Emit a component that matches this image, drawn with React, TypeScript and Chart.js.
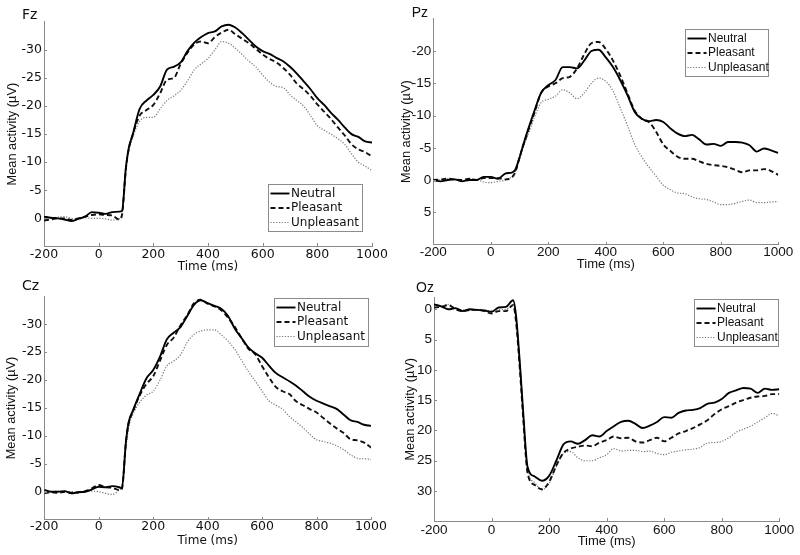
import React, { useEffect, useRef } from 'react';
import { Chart, registerables } from 'chart.js';

Chart.register(...registerables);

// ---------- data ----------
const TIME = [-200, -175, -150, -125, -100, -75, -50, -25, 0, 25, 50, 75, 85, 100, 110, 125,
  150, 175, 200, 225, 250, 275, 300, 325, 350, 375, 400, 425, 450, 475, 500, 525, 550, 575,
  600, 625, 650, 675, 700, 725, 750, 775, 800, 825, 850, 875, 900, 925, 950, 975, 1000];

const SERIES_NAMES = ['Neutral', 'Pleasant', 'Unpleasant'];

const FZ_NEUTRAL = [-0.3, -0.1, 0, 0.2, 0.5, 0.1, -0.3, -1.1, -1.0, -0.8, -1.1, -1.2, -1.3, -9.2, -12.5, -15,
  -19.5, -21, -22, -23.5, -26.5, -27, -27.8, -29.8, -31.3, -32.3, -33, -33.3, -34.2, -34.5, -34, -33, -31.8, -30.6,
  -29.8, -29.3, -28.6, -28, -27, -25.8, -24.4, -23, -21.4, -20.2, -18.8, -17.6, -16.2, -15, -14.5, -13.7, -13.5];
const FZ_PLEASANT = [0.4, 0.2, 0, 0, 0.3, 0, -0.3, -0.6, -0.7, -0.6, -0.5, 0.2, -0.5, -9, -12.3, -15,
  -18.3, -19.3, -20.2, -22.3, -24.7, -25, -27.5, -29.5, -31, -31.5, -31.2, -32.3, -33.1, -33.6, -32.8, -32, -31.2, -30.2,
  -29.2, -28.4, -27.8, -26.8, -25.6, -24, -23, -21.8, -20.3, -19, -17.7, -16.2, -14.8, -13.2, -12.3, -11.8, -11];
const FZ_UNPLEASANT = [-0.2, 0, -0.2, -0.3, 0, 0.1, -0.1, 0, 0, 0.1, 0.3, 0.1, -0.8, -9, -12, -14.5,
  -17.3, -18, -18, -19.5, -21, -21.8, -22.8, -24.5, -26.5, -27.5, -28.5, -30, -31.5, -31.2, -30.3, -29.2, -28, -27,
  -25.5, -24.3, -23.5, -23.3, -22, -21, -20, -18.3, -16.5, -15.7, -15, -14.2, -13.2, -11.5, -10, -9.3, -8.5];

const PZ_NEUTRAL = [0, 0.2, 0, -0.1, 0.2, 0, 0, -0.5, -0.5, -0.2, -1, -1.2, -1.6, -3.5, -5, -7.2,
  -10.5, -13.5, -14.7, -15.5, -17.5, -17.5, -17.3, -18.5, -20, -20.2, -19, -17.5, -15.5, -13.2, -10.6, -9.5, -9.1, -9.3,
  -9, -8, -7.2, -6.8, -7, -6.3, -5.5, -5.6, -5.3, -5.9, -5.9, -5.8, -5.4, -4.4, -4.9, -4.6, -4.2];
const PZ_PLEASANT = [0, -0.1, -0.2, -0.1, 0, -0.2, 0, -0.3, -0.3, -0.3, -0.1, -0.5, -1.2, -3.5, -5, -7,
  -10.2, -13.5, -14.5, -15, -15.8, -16, -17.3, -19.5, -21.2, -21.4, -20.3, -18.5, -16.2, -13.5, -10.8, -9.5, -9, -7.5,
  -5.5, -4.5, -3.6, -3.3, -3.3, -2.9, -2.5, -2.3, -2.2, -2, -1.6, -1.2, -1.5, -1.5, -1.7, -1.4, -0.8];
const PZ_UNPLEASANT = [0, 0, -0.2, 0, 0.1, -0.2, -0.1, 0.3, 0.4, 0.2, 0, -0.6, -1.2, -3.3, -4.8, -6.5,
  -9.5, -12, -12.5, -13, -14, -13.5, -12.6, -13.5, -15, -15.8, -15.3, -13.8, -11.2, -8.5, -5.6, -3.6, -2, -0.6,
  0.8, 1.5, 2, 2.1, 2.6, 2.9, 3, 3.4, 3.8, 3.8, 3.6, 3.3, 3.1, 3.5, 3.5, 3.4, 3.3];

const CZ_NEUTRAL = [-0.3, 0, 0, -0.1, 0.3, 0.1, 0, -0.4, -0.9, -0.8, -1, -0.8, -0.6, -9, -12.5, -14.5,
  -17.5, -20.3, -21.8, -24.2, -27.3, -28.5, -29.5, -31.5, -33.5, -34.3, -33.8, -33.3, -32.8, -31.5, -29.2, -27.5, -25.8, -24.8,
  -24, -22.6, -21.3, -20.5, -19.8, -19, -18, -17, -16.3, -15.8, -15.3, -14.8, -13.8, -12.8, -12.5, -12, -11.8];
const CZ_PLEASANT = [0.3, 0.1, 0.2, 0, 0.2, 0.1, -0.1, -0.6, -1.2, -0.8, -0.7, -0.3, -0.5, -9, -12.3, -14.3,
  -17.2, -19.3, -20.7, -23.5, -26.3, -27.6, -29.8, -31.6, -33.8, -34.4, -33.7, -33.2, -32.5, -31.2, -29.5, -27.5, -25.6, -24.6,
  -22.5, -20.5, -18.8, -18, -17.5, -16.2, -15.5, -14.8, -14.2, -13.2, -12.2, -11.3, -10.5, -9.4, -9.2, -8.8, -7.9];
const CZ_UNPLEASANT = [-0.4, 0, -0.1, 0.1, 0, 0.2, 0, -0.1, 0, 0.3, 0.5, -0.3, -1, -8, -11.5, -13.8,
  -16, -17.3, -18, -20, -22.5, -23.4, -24.5, -26.8, -28.2, -28.8, -29, -29, -28.1, -27, -25.5, -23.5, -21.5, -19.8,
  -18, -16.3, -15.5, -14.8, -13.5, -12.5, -11.5, -10.3, -9.3, -9, -8.7, -8.2, -7.5, -6.6, -6, -5.9, -5.8];

const OZ_NEUTRAL = [-0.8, -0.5, 0, -0.2, 0.3, 0, 0.1, 0.2, 0.4, -0.3, -0.4, -1.5, 1, 10, 17, 26,
  27.6, 28.3, 27.5, 25, 22.3, 21.8, 22.2, 21.6, 20.8, 21, 20.1, 19.3, 18.6, 18.4, 18.9, 19.6, 19.2, 18.6,
  17.8, 17.9, 17.1, 16.7, 16.6, 16.3, 15.6, 15.4, 14.8, 13.8, 13.4, 13, 13.1, 13.8, 13.1, 13.3, 13.2];
const OZ_PLEASANT = [-0.3, -0.4, -0.7, 0, 0.3, 0.1, 0.1, 0.3, 0.7, 0.3, 0.3, -0.7, 2, 11, 18, 27,
  29, 29.7, 28.5, 25.8, 23.7, 23, 22.7, 22.5, 22.6, 22, 21.6, 21, 21.3, 21.2, 21.8, 22, 21.6, 21.2,
  21.8, 21.2, 20.5, 20.1, 19.6, 19, 18.3, 17.3, 16.5, 16, 15.4, 15, 14.6, 14.4, 14.3, 14, 14];
const OZ_UNPLEASANT = [-0.2, -0.5, -0.8, -0.1, 0.1, 0.2, 0, 0.1, 0.3, 0.1, 0, -0.5, 1.5, 10, 17.5, 26.5,
  28.6, 29.8, 28.7, 26, 23.8, 23.5, 24.5, 25, 25, 24.5, 24, 23, 23.4, 23.3, 23.3, 23.5, 23.4, 23.8,
  24, 23.6, 23.4, 23.2, 23.1, 22.8, 22.1, 22, 21.8, 21.2, 20.3, 19.8, 19.3, 18.6, 17.9, 17.2, 17.6];

const X_TICKS = [-200, 0, 200, 400, 600, 800, 1000];
const FZ_Y_TICKS = [-30, -25, -20, -15, -10, -5, 0];
const PZ_Y_TICKS = [-20, -15, -10, -5, 0, 5];
const CZ_Y_TICKS = [-30, -25, -20, -15, -10, -5, 0];
const OZ_Y_TICKS = [0, 5, 10, 15, 20, 25, 30];

// ---------- styles ----------
const TEXT_COLOR = '#111111';
const AXIS_COLOR = '#8a8a8a';
const LINE_STYLES = [
  { color: '#000000', width: 1.9, dash: [] as number[] },
  { color: '#111111', width: 1.9, dash: [5, 3] },
  { color: '#767676', width: 1.2, dash: [1.2, 1.6] },
];

type Font = { family: string; size: number };
type Panel = {
  title: string;
  series: number[][];
  yMin: number;
  yMax: number;
  yTicks: number[];
  canvas: { x: number; y: number; w: number; h: number };
  area: { l: number; t: number; r: number; b: number };
  tickFont: Font;
  xTitleFont: Font;
  yTitleFont: Font;
  legendFont: Font;
  titleFont: Font;
  xTickPad: number;
  xTitlePad: number;
  yTitlePad: number;
  titlePos: { x: number; y: number };
  legend: { w: number; h: number; right: number; top?: number; bottom?: number };
};

const LEFT_TICK = { family: 'DejaVu Sans', size: 12.5 };
const RIGHT_TICK = { family: 'Liberation Sans', size: 13.5 };

const PANELS: Panel[] = [
  {
    title: 'Fz', series: [FZ_NEUTRAL, FZ_PLEASANT, FZ_UNPLEASANT], yMin: -35, yMax: 5, yTicks: FZ_Y_TICKS,
    canvas: { x: 0, y: 0, w: 394, h: 277 }, area: { l: 44, t: 21.9, r: 372, b: 246.4 },
    tickFont: LEFT_TICK, xTitleFont: { family: 'DejaVu Sans', size: 12 }, yTitleFont: { family: 'Liberation Sans', size: 12.8 },
    legendFont: { family: 'DejaVu Sans', size: 12 }, titleFont: { family: 'DejaVu Sans', size: 14 },
    xTickPad: 1, xTitlePad: 2.8, yTitlePad: 4.3, titlePos: { x: 22, y: 15 },
    legend: { w: 94, h: 47, right: 10, bottom: 15.4 },
  },
  {
    title: 'Pz', series: [PZ_NEUTRAL, PZ_PLEASANT, PZ_UNPLEASANT], yMin: -25, yMax: 10, yTicks: PZ_Y_TICKS,
    canvas: { x: 394, y: 0, w: 406, h: 277 }, area: { l: 433.3, t: 18.7, r: 778.3, b: 244.6 },
    tickFont: RIGHT_TICK, xTitleFont: { family: 'Liberation Sans', size: 13 }, yTitleFont: { family: 'Liberation Sans', size: 12.8 },
    legendFont: { family: 'Liberation Sans', size: 12 }, titleFont: { family: 'Liberation Sans', size: 14 },
    xTickPad: 0, xTitlePad: 5.2, yTitlePad: 4.3, titlePos: { x: 411.7, y: 13.3 },
    legend: { w: 83, h: 47, right: 10, top: 10.3 },
  },
  {
    title: 'Cz', series: [CZ_NEUTRAL, CZ_PLEASANT, CZ_UNPLEASANT], yMin: -35, yMax: 5, yTicks: CZ_Y_TICKS,
    canvas: { x: 0, y: 277, w: 394, h: 278 }, area: { l: 44.3, t: 296.4, r: 371, b: 519.6 },
    tickFont: LEFT_TICK, xTitleFont: { family: 'DejaVu Sans', size: 12 }, yTitleFont: { family: 'Liberation Sans', size: 12.8 },
    legendFont: { family: 'DejaVu Sans', size: 12 }, titleFont: { family: 'DejaVu Sans', size: 14 },
    xTickPad: 0, xTitlePad: 6.6, yTitlePad: 4, titlePos: { x: 22, y: 286.7 },
    legend: { w: 94, h: 48, right: 3, top: 1.6 },
  },
  {
    title: 'Oz', series: [OZ_NEUTRAL, OZ_PLEASANT, OZ_UNPLEASANT], yMin: -2, yMax: 35, yTicks: OZ_Y_TICKS,
    canvas: { x: 394, y: 277, w: 406, h: 278 }, area: { l: 434, t: 297.2, r: 779.3, b: 521.3 },
    tickFont: RIGHT_TICK, xTitleFont: { family: 'Liberation Sans', size: 13 }, yTitleFont: { family: 'Liberation Sans', size: 12.8 },
    legendFont: { family: 'Liberation Sans', size: 12 }, titleFont: { family: 'Liberation Sans', size: 14 },
    xTickPad: 1, xTitlePad: 5.5, yTitlePad: 8.8, titlePos: { x: 416, y: 288.3 },
    legend: { w: 84, h: 47, right: 1.3, top: 1.8 },
  },
];

function makeDecor(p: Panel) {
  return {
    id: 'decor_' + p.title,
    afterDraw(chart: any) {
      const { ctx, chartArea: a } = chart;
      const xs = chart.scales.x;
      const ys = chart.scales.y;
      ctx.save();
      // inward tick marks
      ctx.strokeStyle = AXIS_COLOR;
      ctx.lineWidth = 1;
      ctx.setLineDash([]);
      ctx.beginPath();
      for (const t of xs.ticks) {
        const px = Math.round(xs.getPixelForValue(t.value)) + 0.5;
        ctx.moveTo(px, Math.round(a.bottom));
        ctx.lineTo(px, Math.round(a.bottom) - 3);
      }
      for (const t of ys.ticks) {
        const py = Math.round(ys.getPixelForValue(t.value)) + 0.5;
        ctx.moveTo(Math.round(a.left), py);
        ctx.lineTo(Math.round(a.left) + 3, py);
      }
      ctx.stroke();

      // panel title
      ctx.fillStyle = TEXT_COLOR;
      ctx.font = `${p.titleFont.size}px "${p.titleFont.family}"`;
      ctx.textAlign = 'left';
      ctx.textBaseline = 'middle';
      ctx.fillText(p.title, p.titlePos.x - p.canvas.x, p.titlePos.y - p.canvas.y);

      // legend box
      const L = p.legend;
      const bx = Math.round(a.right - L.right - L.w) + 0.5;
      const by = Math.round(L.top !== undefined ? a.top + L.top : a.bottom - (L.bottom || 0) - L.h) + 0.5;
      ctx.fillStyle = '#ffffff';
      ctx.fillRect(bx, by, L.w, L.h);
      ctx.strokeStyle = '#8c8c8c';
      ctx.lineWidth = 1;
      ctx.strokeRect(bx, by, L.w, L.h);
      ctx.font = `${p.legendFont.size}px "${p.legendFont.family}"`;
      chart.data.datasets.forEach((ds: any, i: number) => {
        const cy = by + 9 + i * 14.5;
        const st = LINE_STYLES[i];
        ctx.strokeStyle = st.color;
        ctx.lineWidth = st.width;
        ctx.setLineDash(st.dash);
        ctx.beginPath();
        ctx.moveTo(bx + 2, cy);
        ctx.lineTo(bx + 21, cy);
        ctx.stroke();
        ctx.setLineDash([]);
        ctx.fillStyle = TEXT_COLOR;
        ctx.fillText(ds.label, bx + 22.5, cy);
      });
      ctx.restore();
    },
  };
}

function PanelChart({ p }: { p: Panel }) {
  const ref = useRef<HTMLCanvasElement>(null);
  useEffect(() => {
    const canvas = ref.current;
    if (!canvas) return;
    const yAxisW = p.area.l - p.canvas.x;
    const xAxisH = p.canvas.y + p.canvas.h - p.area.b;
    const chart = new Chart(canvas, {
      type: 'line',
      data: {
        datasets: p.series.map((vals, i) => ({
          label: SERIES_NAMES[i],
          data: TIME.map((t, k) => ({ x: t, y: vals[k] })),
          borderColor: LINE_STYLES[i].color,
          borderWidth: LINE_STYLES[i].width,
          borderDash: LINE_STYLES[i].dash,
          pointRadius: 0,
          fill: false,
          cubicInterpolationMode: 'monotone' as const,
        })),
      },
      options: {
        animation: false,
        responsive: false,
        devicePixelRatio: 1,
        events: [],
        layout: {
          padding: {
            top: p.area.t - p.canvas.y,
            right: p.canvas.x + p.canvas.w - p.area.r,
            left: 0,
            bottom: 0,
          },
        },
        plugins: {
          legend: { display: false },
          title: { display: false },
          tooltip: { enabled: false },
        },
        scales: {
          x: {
            type: 'linear',
            min: -200,
            max: 1000,
            grid: { display: false, drawTicks: false },
            border: { display: true, color: AXIS_COLOR, width: 1 },
            afterBuildTicks: (s: any) => { s.ticks = X_TICKS.map((value) => ({ value })); },
            afterFit: (s: any) => { s.height = xAxisH; },
            ticks: {
              autoSkip: false,
              maxRotation: 0,
              padding: p.xTickPad,
              color: TEXT_COLOR,
              font: p.tickFont,
              callback: (v: any) => String(v),
            },
            title: {
              display: true,
              text: 'Time (ms)',
              color: TEXT_COLOR,
              font: p.xTitleFont,
              padding: { top: 0, bottom: p.xTitlePad },
            },
          },
          y: {
            type: 'linear',
            min: p.yMin,
            max: p.yMax,
            reverse: true,
            grid: { display: false, drawTicks: false },
            border: { display: true, color: AXIS_COLOR, width: 1 },
            afterBuildTicks: (s: any) => { s.ticks = p.yTicks.map((value) => ({ value })); },
            afterFit: (s: any) => { s.width = yAxisW; },
            ticks: {
              padding: 2,
              color: TEXT_COLOR,
              font: p.tickFont,
              callback: (v: any) => String(v),
            },
            title: {
              display: true,
              text: 'Mean activity (µV)',
              color: TEXT_COLOR,
              font: p.yTitleFont,
              padding: { top: p.yTitlePad, bottom: 0 },
            },
          },
        },
      },
      plugins: [makeDecor(p)],
    } as any);
    return () => chart.destroy();
  }, [p]);
  return (
    <canvas
      ref={ref}
      width={p.canvas.w}
      height={p.canvas.h}
      style={{ position: 'absolute', left: p.canvas.x, top: p.canvas.y, width: p.canvas.w, height: p.canvas.h }}
    />
  );
}

export default function App() {
  return (
    <div style={{ position: 'absolute', left: 0, top: 0, width: 800, height: 555, background: '#ffffff', overflow: 'hidden' }}>
      {PANELS.map((p) => (
        <PanelChart key={p.title} p={p} />
      ))}
    </div>
  );
}
